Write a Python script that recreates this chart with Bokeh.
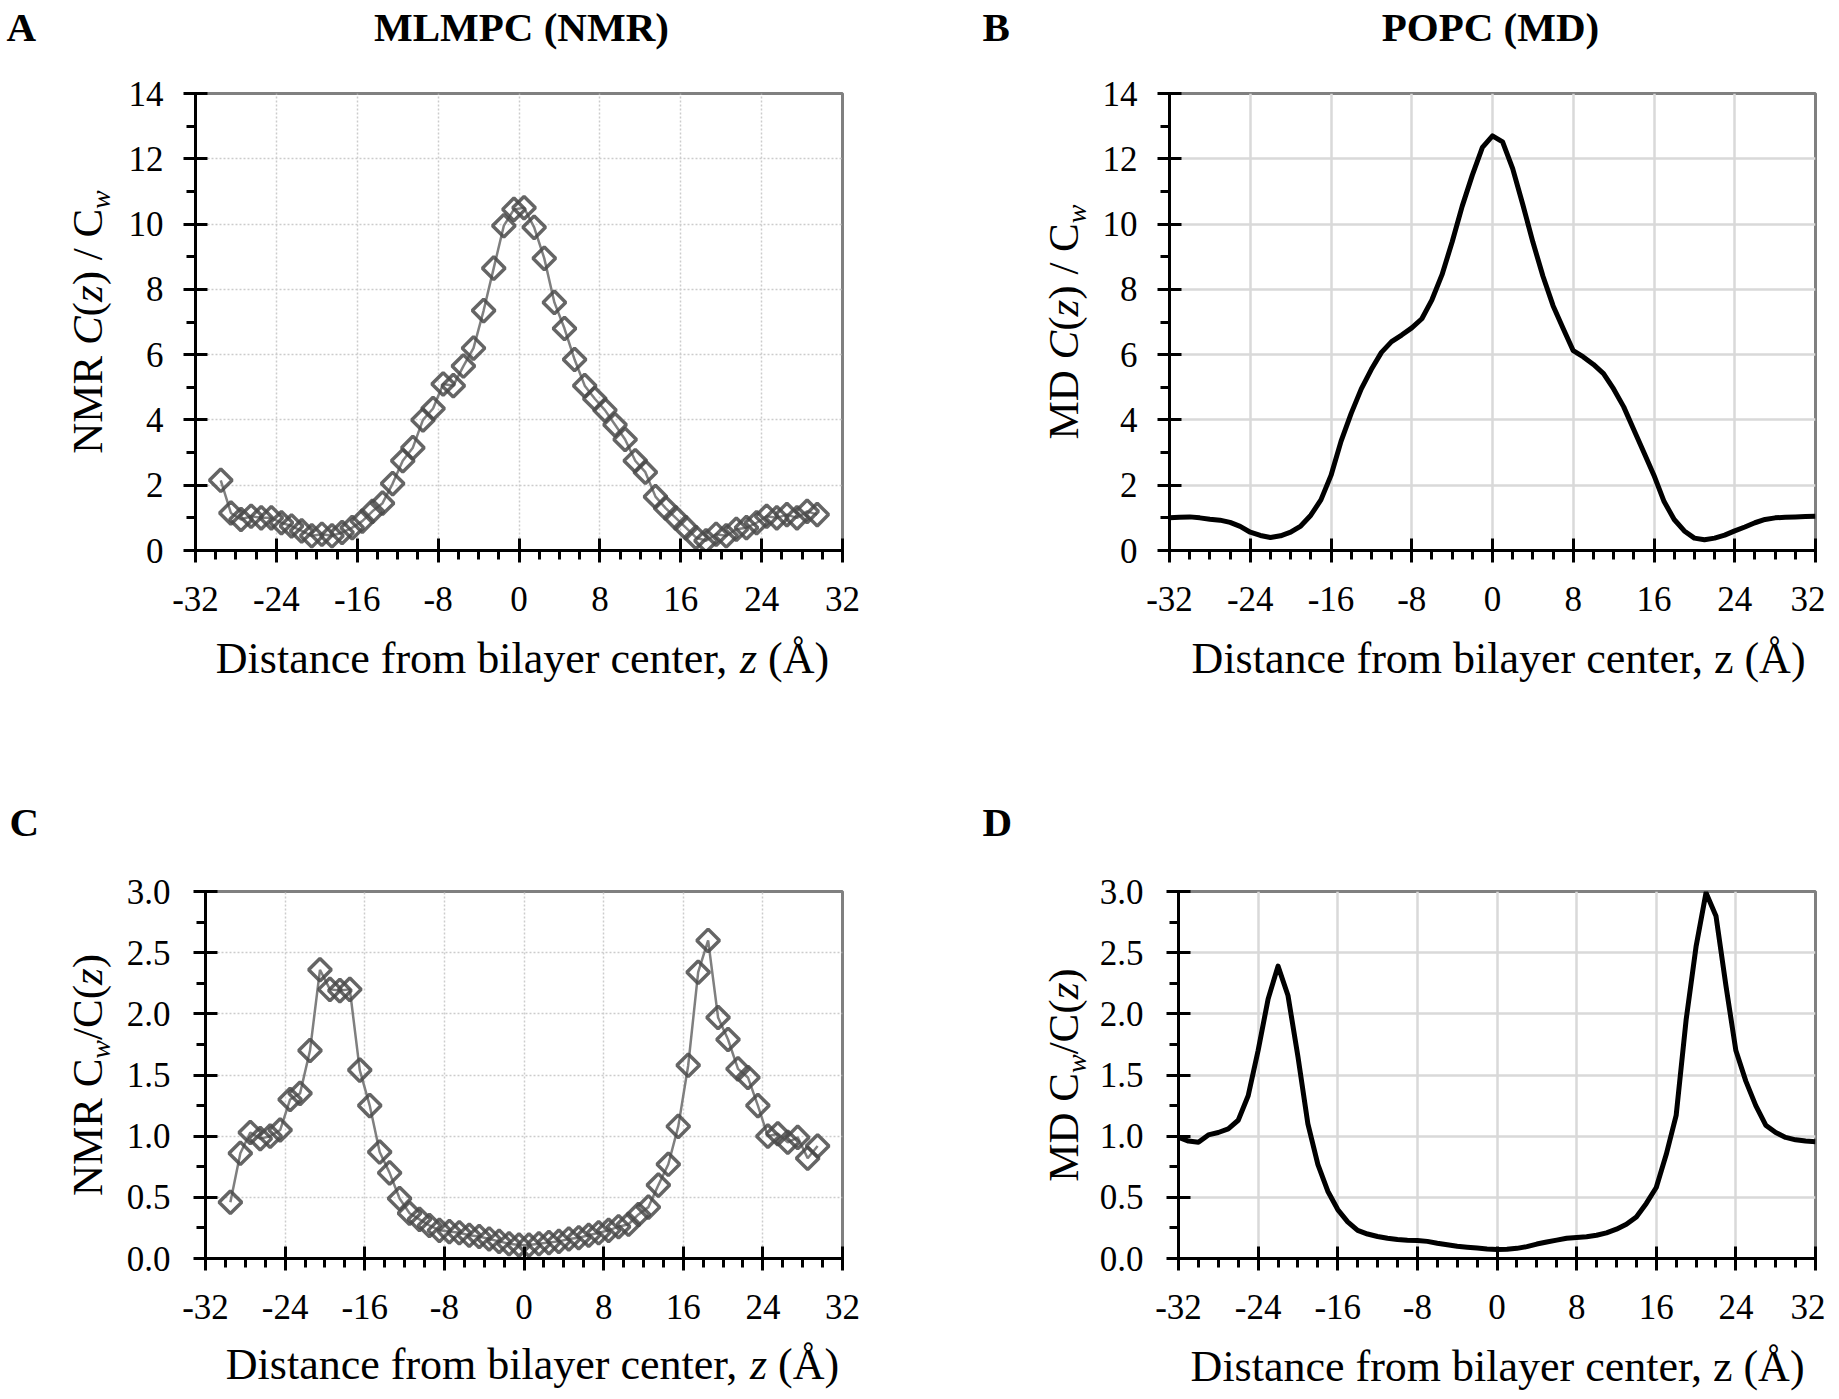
import numpy as np
from bokeh.plotting import figure
from bokeh.models import FixedTicker, Range1d, PrintfTickFormatter
from bokeh.core.properties import value
from bokeh.layouts import column, row
from bokeh.embed import file_html
from bokeh.resources import INLINE

# ---------------- data ----------------
z_nmr = [-29.5, -28.5, -27.5, -26.5, -25.5, -24.5, -23.5, -22.5, -21.5, -20.5,
         -19.5, -18.5, -17.5, -16.5, -15.5, -14.5, -13.5, -12.5, -11.5, -10.5,
         -9.5, -8.5, -7.5, -6.5, -5.5, -4.5, -3.5, -2.5, -1.5, -0.5,
         0.5, 1.5, 2.5, 3.5, 4.5, 5.5, 6.5, 7.5, 8.5, 9.5,
         10.5, 11.5, 12.5, 13.5, 14.5, 15.5, 16.5, 17.5, 18.5, 19.5,
         20.5, 21.5, 22.5, 23.5, 24.5, 25.5, 26.5, 27.5, 28.5, 29.5]

nmr_c_over_cw = [2.15, 1.15, 0.95, 1.05, 1.0, 1.0, 0.85, 0.75, 0.6, 0.45,
                 0.5, 0.45, 0.55, 0.7, 0.9, 1.2, 1.45, 2.05, 2.75, 3.15,
                 4.0, 4.35, 5.1, 5.05, 5.65, 6.2, 7.35, 8.65, 9.95, 10.45,
                 10.5, 9.9, 8.95, 7.6, 6.8, 5.85, 5.05, 4.65, 4.3, 3.85,
                 3.4, 2.75, 2.4, 1.65, 1.3, 1.0, 0.7, 0.4, 0.3, 0.5,
                 0.45, 0.65, 0.7, 0.85, 1.05, 1.0, 1.1, 1.0, 1.2, 1.1]

nmr_cw_over_c = [0.46, 0.86, 1.03, 0.98, 1.0, 1.05, 1.3, 1.35, 1.7, 2.36,
                 2.2, 2.19, 2.2, 1.54, 1.25, 0.87, 0.7, 0.49, 0.37, 0.32,
                 0.27, 0.23, 0.22, 0.21, 0.19, 0.18, 0.16, 0.14, 0.12, 0.11,
                 0.11, 0.12, 0.13, 0.14, 0.16, 0.17, 0.19, 0.21, 0.23, 0.26,
                 0.28, 0.36, 0.42, 0.6, 0.77, 1.08, 1.58, 2.34, 2.6, 1.97,
                 1.79, 1.55, 1.48, 1.25, 1.0, 1.02, 0.95, 0.99, 0.82, 0.92]

z_md = [-32, -31, -30, -29, -28, -27, -26, -25, -24, -23, -22, -21, -20,
        -19, -18, -17, -16, -15, -14, -13, -12, -11, -10, -9, -8, -7, -6,
        -5, -4, -3, -2, -1, 0, 1, 2, 3, 4, 5, 6, 7, 8, 9, 10, 11, 12, 13,
        14, 15, 16, 17, 18, 19, 20, 21, 22, 23, 24, 25, 26, 27, 28, 29, 30,
        31, 32]

md_c_over_cw = [1.0, 1.02, 1.03, 1.0, 0.96, 0.93, 0.86, 0.74, 0.56, 0.46,
                0.40, 0.45, 0.56, 0.75, 1.08, 1.55, 2.3, 3.35, 4.2, 4.95,
                5.55, 6.07, 6.4, 6.6, 6.82, 7.1, 7.68, 8.45, 9.45, 10.55,
                11.5, 12.35, 12.7, 12.52, 11.7, 10.6, 9.45, 8.4, 7.5, 6.8,
                6.12, 5.93, 5.7, 5.42, 4.95, 4.4, 3.7, 3.0, 2.3, 1.5,
                0.95, 0.6, 0.38, 0.33, 0.38, 0.47, 0.6, 0.72, 0.85, 0.95,
                1.0, 1.02, 1.03, 1.04, 1.05]

md_cw_over_c = [0.99, 0.96, 0.95, 1.01, 1.03, 1.06, 1.13, 1.33, 1.7, 2.12,
                2.39, 2.15, 1.65, 1.1, 0.77, 0.55, 0.4, 0.3, 0.23, 0.2,
                0.18, 0.165, 0.155, 0.15, 0.148, 0.14, 0.125, 0.113, 0.1, 0.092,
                0.085, 0.078, 0.074, 0.075, 0.083, 0.097, 0.118, 0.135, 0.15, 0.165,
                0.172, 0.178, 0.19, 0.21, 0.24, 0.28, 0.34, 0.45, 0.58, 0.85,
                1.17, 1.95, 2.55, 2.99, 2.8, 2.23, 1.7, 1.45, 1.25, 1.09,
                1.03, 0.99, 0.97, 0.96, 0.955]

x_ticks = [-32, -24, -16, -8, 0, 8, 16, 24, 32]
x_minor = [-30, -28, -26, -22, -20, -18, -14, -12, -10, -6, -4, -2,
           2, 4, 6, 10, 12, 14, 18, 20, 22, 26, 28, 30]
y_ticks_top = [0, 2, 4, 6, 8, 10, 12, 14]
y_minor_top = [1, 3, 5, 7, 9, 11, 13]
y_ticks_bot = [0.0, 0.5, 1.0, 1.5, 2.0, 2.5, 3.0]
y_minor_bot = [0.25, 0.75, 1.25, 1.75, 2.25, 2.75]

# ---------------- helpers ----------------
SERIF = "Liberation Serif"
REG = {' ': 250, ',': 250, '(': 333, ')': 333, '/': 278, 'Å': 722, 'A': 722,
       'C': 667, 'D': 722, 'M': 889, 'N': 722, 'R': 667, 'a': 444, 'b': 500,
       'c': 444, 'e': 444, 'f': 333, 'i': 278, 'l': 278, 'm': 778, 'n': 500,
       'o': 500, 'r': 333, 's': 389, 't': 278, 'y': 500, 'z': 444, 'w': 722}
ITA = {'C': 667, 'z': 389, 'w': 667}
BASE_FIX = 0.33  # measured shift of the rendered baseline, in em


def text_width(t, italic, size):
    table = ITA if italic else REG
    return sum(table.get(ch, 500) for ch in t) / 1000.0 * size


def put_text(p, t, dx, dy_up, size, style="normal", align="left", angle=0.0):
    """Text anchored at the frame's bottom-left corner, shifted by pixels
    (dx to the right, dy_up upwards; for vertical text the baseline is at dx)."""
    if angle == 0.0:
        dy_up = dy_up + BASE_FIX * size
    else:
        dx = dx - BASE_FIX * size
    p.text(x=[p.x_range.start], y=[p.y_range.start], text=[t],
           x_offset=dx, y_offset=-dy_up, angle=angle,
           text_font=value(SERIF), text_font_size=f"{size:.1f}px",
           text_font_style=style, text_align=align,
           text_baseline="alphabetic", text_color="black", level="overlay")


def composite(p, pieces, cx, cy, size, vertical=False):
    """pieces: (text, italic, subscript); cx, cy in px from frame bottom-left (y up)."""
    sizes = [size * 0.65 if sub else size for _, _, sub in pieces]
    widths = [text_width(t, it, s) for (t, it, _), s in zip(pieces, sizes)]
    pos = -sum(widths) / 2.0
    for (t, it, sub), s, w in zip(pieces, sizes, widths):
        shift = 0.2 * size if sub else 0.0
        style = "italic" if it else "normal"
        body = t.lstrip(" ")
        lead = text_width(t[:len(t) - len(body)], it, s)
        body = body.rstrip(" ")
        if body:
            if vertical:
                put_text(p, body, cx + shift, cy + pos + lead, s, style, "left", np.pi / 2)
            else:
                put_text(p, body, cx + pos + lead, cy - shift, s, style, "left", 0.0)
        pos += w


def make_fig(fw, fh, bl, br, bt, bb, ymax, yt, ym, fmt, dotted, label_std):
    p = figure(frame_width=fw, frame_height=fh,
               min_border_left=bl, min_border_right=br,
               min_border_top=bt, min_border_bottom=bb,
               x_range=Range1d(-32, 32), y_range=Range1d(0, ymax),
               output_backend="svg", toolbar_location=None, tools="")
    p.background_fill_color = "white"
    p.border_fill_color = "white"
    p.outline_line_color = "#808080"
    p.outline_line_width = 3
    xt = FixedTicker(ticks=x_ticks, minor_ticks=x_minor)
    ytk = FixedTicker(ticks=yt, minor_ticks=ym)
    p.xaxis.ticker = xt
    p.yaxis.ticker = ytk
    p.xgrid.ticker = xt
    p.ygrid.ticker = ytk
    p.xaxis.formatter = PrintfTickFormatter(format="%d")
    p.yaxis.formatter = PrintfTickFormatter(format=fmt)
    for ax in (p.xaxis[0], p.yaxis[0]):
        ax.axis_line_color = "black"
        ax.axis_line_width = 3
        ax.major_tick_line_color = "black"
        ax.major_tick_line_width = 3
        ax.major_tick_in = 12
        ax.major_tick_out = 12
        ax.minor_tick_line_color = "black"
        ax.minor_tick_line_width = 3
        ax.minor_tick_in = 0
        ax.minor_tick_out = 9
        ax.major_label_text_font = SERIF
        ax.major_label_text_font_size = "35px"
        ax.major_label_text_color = "black"
    p.xaxis.major_label_standoff = 24
    p.yaxis.major_label_standoff = label_std
    for g in (p.xgrid[0], p.ygrid[0]):
        if dotted:
            g.grid_line_color = "#cccccc"
            g.grid_line_width = 1.5
            g.grid_line_dash = "2 2"
        else:
            g.grid_line_color = "#d9d9d9"
            g.grid_line_width = 2.5
    return p


def title_bits(p, letter, letter_x, title, title_x, y):
    put_text(p, letter, letter_x, y, 41, "bold", "left")
    if title:
        put_text(p, title, title_x, y, 41, "bold", "center")


def nmr_series(p, z, v):
    p.line(z, v, line_color="#7f7f7f", line_width=2.5)
    p.scatter(z, v, marker="square", angle=np.pi / 4, size=16,
              fill_color=None, line_color="#4a4a4a", line_width=3.5,
              line_alpha=0.85)


# ---------------- panel A ----------------
pA = make_fig(647, 457, 195, 140, 93, 180, 14, y_ticks_top, y_minor_top,
              "%d", True, 20)
nmr_series(pA, z_nmr, nmr_c_over_cw)
title_bits(pA, "A", -189, "MLMPC (NMR)", 326, 510)
composite(pA, [("Distance from bilayer center, ", False, False), ("z", True, False),
               (" (Å)", False, False)], 327, -123, 44)
composite(pA, [("NMR ", False, False), ("C", True, False), ("(", False, False),
               ("z", True, False), (") / C", False, False), ("w", True, True)],
          -94, 228.5, 43, vertical=True)

# ---------------- panel B ----------------
pB = make_fig(646, 457, 187, 10, 93, 180, 14, y_ticks_top, y_minor_top,
              "%d", False, 20)
pB.line(z_md, md_c_over_cw, line_color="black", line_width=5,
        line_join="round")
title_bits(pB, "B", -187, "POPC (MD)", 321, 510)
composite(pB, [("Distance from bilayer center, z (Å)", False, False)],
          330, -123, 44)
composite(pB, [("MD ", False, False), ("C", True, False), ("(", False, False),
               ("z", True, False), (") / C", False, False), ("w", True, True)],
          -92, 228.5, 43, vertical=True)

# ---------------- panel C ----------------
pC = make_fig(637, 367, 205, 140, 161, 135, 3.0, y_ticks_bot, y_minor_bot,
              "%.1f", True, 23)
nmr_series(pC, z_nmr, nmr_cw_over_c)
title_bits(pC, "C", -196, None, 0, 423)
composite(pC, [("Distance from bilayer center, ", False, False), ("z", True, False),
               (" (Å)", False, False)], 327, -121, 44)
composite(pC, [("NMR C", False, False), ("w", True, True), ("/C(", False, False),
               ("z", True, False), (")", False, False)],
          -104, 183.5, 43, vertical=True)

# ---------------- panel D ----------------
pD = make_fig(637, 367, 196, 10, 161, 135, 3.0, y_ticks_bot, y_minor_bot,
              "%.1f", False, 23)
pD.line(z_md, md_cw_over_c, line_color="black", line_width=5,
        line_join="round")
title_bits(pD, "D", -196, None, 0, 423)
composite(pD, [("Distance from bilayer center, z (Å)", False, False)],
          320, -123, 44)
composite(pD, [("MD C", False, False), ("w", True, True), ("/C(", False, False),
               ("z", True, False), (")", False, False)],
          -101, 183.5, 43, vertical=True)

layout = column(row(pA, pB), row(pC, pD))
open("out.html", "w").write(file_html(layout, INLINE))
